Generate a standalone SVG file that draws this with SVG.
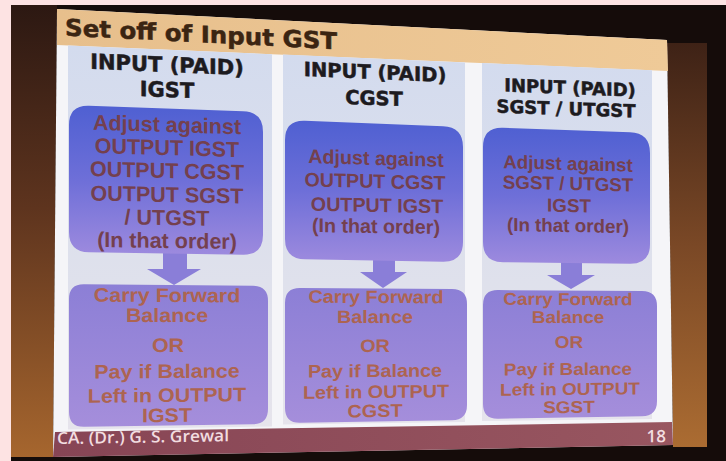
<svg xmlns="http://www.w3.org/2000/svg" width="726" height="461" viewBox="0 0 726 461">
<defs>
<linearGradient id="gLeft" x1="0" y1="0" x2="0" y2="1"><stop offset="0" stop-color="#2c1812"/><stop offset="0.45" stop-color="#5e341e"/><stop offset="1" stop-color="#a6662e"/></linearGradient>
<linearGradient id="gRight" x1="0" y1="0" x2="0" y2="1"><stop offset="0" stop-color="#3e2216"/><stop offset="0.5" stop-color="#7a4826"/><stop offset="1" stop-color="#ab6c32"/></linearGradient>
<linearGradient id="gTitle" x1="0" y1="0" x2="1" y2="0"><stop offset="0" stop-color="#e7bf8c"/><stop offset="1" stop-color="#efca98"/></linearGradient>
<linearGradient id="gPanel" x1="0" y1="0" x2="0" y2="1"><stop offset="0" stop-color="#d3dbee"/><stop offset="0.5" stop-color="#dde0ec"/><stop offset="1" stop-color="#e6e4ec"/></linearGradient>
<linearGradient id="gBox1" x1="0" y1="0" x2="0" y2="1"><stop offset="0" stop-color="#4f60d2"/><stop offset="0.5" stop-color="#6e6fd8"/><stop offset="1" stop-color="#9d8ade"/></linearGradient>
<linearGradient id="gBox2" x1="0" y1="0" x2="0" y2="1"><stop offset="0" stop-color="#8c7fd6"/><stop offset="1" stop-color="#a58edb"/></linearGradient>
<linearGradient id="gFoot" x1="0" y1="0" x2="1" y2="0"><stop offset="0" stop-color="#874555"/><stop offset="1" stop-color="#985660"/></linearGradient>
<style>
.h{font-family:"DejaVu Sans",Verdana,sans-serif;font-weight:bold;fill:#1d1b1f;stroke:#1d1b1f;stroke-width:0.5px;text-anchor:middle}
.t1{font-family:"Liberation Sans",Arial,sans-serif;font-weight:bold;fill:#74404e;text-anchor:middle}
.t2{font-family:"Liberation Sans",Arial,sans-serif;font-weight:bold;fill:#ad6450;text-anchor:middle}
.c1{font-size:21.5px}.c2{font-size:19.7px}.c3{font-size:18.8px}
.b1{font-size:19.5px}.b2{font-size:18px}.b3{font-size:17.2px}
.panel{fill:url(#gPanel)}
.box1{fill:url(#gBox1)}
.box2{fill:url(#gBox2)}
.arrow{fill:#8a7ed8}
.foot{font-family:"Open Sans","Noto Sans",sans-serif;font-weight:600;fill:#f2dde0}
</style>
</defs>

<g id="photo-background">
<rect x="0" y="0" width="726" height="461" fill="#fde3e3"/>
<rect x="11" y="5" width="715" height="456" fill="#150c0a"/>
<polygon points="11,5 57,5 57,9 53,457 11,457" fill="url(#gLeft)"/>
<polygon points="667,43 707,43 707,447 673,447" fill="url(#gRight)"/>
<polygon points="57,9 667,40 673,445 53,457" fill="#f5f5f8"/>
<polygon points="57,9 667,40 668,71 57,45" fill="url(#gTitle)"/>
<polygon points="55,432 672,422 673,445 53,457" fill="url(#gFoot)"/>
</g>

<g id="title">
<text class="h" style="text-anchor:start;fill:#3b2512;stroke:#3b2512" font-size="23.3" transform="translate(65,35.5) skewY(2.9)" textLength="272" lengthAdjust="spacingAndGlyphs">Set off of Input GST</text>
</g>

<g id="panels">
<polygon class="panel" points="68,45.5 272,54.2 272,426.5 68,429.5"/>
<polygon class="panel" points="283,54.6 465,62.4 465,422 283,424.5"/>
<polygon class="panel" points="482,63 652,70.3 652,419 482,421"/>
</g>

<g id="col1-heading">
<text class="h" font-size="21" transform="translate(167,72) skewY(2.4)">INPUT (PAID)</text>
<text class="h" font-size="21" transform="translate(167,97) skewY(2.1)">IGST</text>
</g>
<g id="col2-heading">
<text class="h" font-size="19.5" transform="translate(375,79) skewY(2.4)">INPUT (PAID)</text>
<text class="h" font-size="19.5" transform="translate(374,105) skewY(2.1)">CGST</text>
</g>
<g id="col3-heading">
<text class="h" font-size="18" transform="translate(570,94) skewY(2.3)">INPUT (PAID)</text>
<text class="h" font-size="18" transform="translate(566,115) skewY(2.1)">SGST / UTGST</text>
</g>

<g id="connectors">
<path class="arrow" d="M163,252 L187,252 L187,269 L201,269 L174,285 L147,269 L163,269 Z"/>
<path class="arrow" d="M373,260 L395,260 L395,272 L407,272 L383,288 L360,272 L373,272 Z"/>
<path class="arrow" d="M561,262 L582,262 L582,275 L595,275 L571,289 L547,275 L561,275 Z"/>
</g>

<g id="col1-adjust">
<path class="box1" d="M89,105.7 L243,111.3 Q263,112 263,132 L263,235 Q263,255 243,254.7 L89,252.3 Q69,252 69,232 L69,125 Q69,105 89,105.7 Z"/>
<text class="t1 c1" transform="translate(167,132) skewY(1.8)">Adjust against</text>
<text class="t1 c1" transform="translate(167,155) skewY(1.6)">OUTPUT IGST</text>
<text class="t1 c1" transform="translate(167,178) skewY(1.4)">OUTPUT CGST</text>
<text class="t1 c1" transform="translate(167,202) skewY(1.2)">OUTPUT SGST</text>
<text class="t1 c1" transform="translate(167,225) skewY(1.0)">/ UTGST</text>
<text class="t1 c1" transform="translate(167,248) skewY(0.8)">(In that order)</text>
</g>
<g id="col1-carry">
<path class="box2" d="M84,284.2 L253,285.8 Q268,286 268,301 L268,409 Q268,424 253,424.2 L84,426.8 Q69,427 69,412 L69,299 Q69,284 84,284.2 Z"/>
<text class="t2 b1" transform="translate(167,302) skewY(0.3) scale(1.1,1)">Carry Forward</text>
<text class="t2 b1" transform="translate(167,322) skewY(0.1) scale(1.1,1)">Balance</text>
<text class="t2 b1" transform="translate(168,352) skewY(-0.2) scale(1.1,1)">OR</text>
<text class="t2 b1" transform="translate(167,378) skewY(-0.4) scale(1.1,1)">Pay if Balance</text>
<text class="t2 b1" transform="translate(167,402) skewY(-0.6) scale(1.1,1)">Left in OUTPUT</text>
<text class="t2 b1" transform="translate(167,422) skewY(-0.8) scale(1.1,1)">IGST</text>
</g>

<g id="col2-adjust">
<path class="box1" d="M305,120.8 L443,126.2 Q463,127 463,147 L463,242 Q463,262 443,261.7 L305,259.3 Q285,259 285,239 L285,140 Q285,120 305,120.8 Z"/>
<text class="t1 c2" transform="translate(376,165) skewY(1.6)">Adjust against</text>
<text class="t1 c2" transform="translate(375,188) skewY(1.4)">OUTPUT CGST</text>
<text class="t1 c2" transform="translate(377,212) skewY(1.1)">OUTPUT IGST</text>
<text class="t1 c2" transform="translate(376,233) skewY(0.9)">(In that order)</text>
</g>
<g id="col2-carry">
<path class="box2" d="M300,288.1 L452,288.9 Q467,289 467,304 L467,405 Q467,420 452,420.2 L300,422.8 Q285,423 285,408 L285,303 Q285,288 300,288.1 Z"/>
<text class="t2 b2" transform="translate(376,303) skewY(0.2) scale(1.1,1)">Carry Forward</text>
<text class="t2 b2" transform="translate(375,323) skewY(0.1) scale(1.1,1)">Balance</text>
<text class="t2 b2" transform="translate(375,352) skewY(-0.2) scale(1.1,1)">OR</text>
<text class="t2 b2" transform="translate(375,377) skewY(-0.4) scale(1.1,1)">Pay if Balance</text>
<text class="t2 b2" transform="translate(376,398) skewY(-0.6) scale(1.1,1)">Left in OUTPUT</text>
<text class="t2 b2" transform="translate(375,417) skewY(-0.8) scale(1.1,1)">CGST</text>
</g>

<g id="col3-adjust">
<path class="box1" d="M503,127.7 L630,132.3 Q650,133 650,153 L650,244 Q650,264 630,263.8 L503,262.2 Q483,262 483,242 L483,147 Q483,127 503,127.7 Z"/>
<text class="t1 c3" transform="translate(568,170) skewY(1.6)">Adjust against</text>
<text class="t1 c3" transform="translate(568,190) skewY(1.4)">SGST / UTGST</text>
<text class="t1 c3" transform="translate(569,212) skewY(1.2)">IGST</text>
<text class="t1 c3" transform="translate(568,232) skewY(1.0)">(In that order)</text>
</g>
<g id="col3-carry">
<path class="box2" d="M498,290.1 L642,290.9 Q657,291 657,306 L657,401 Q657,416 642,416.3 L498,418.7 Q483,419 483,404 L483,305 Q483,290 498,290.1 Z"/>
<text class="t2 b3" transform="translate(568,305) skewY(0.3) scale(1.1,1)">Carry Forward</text>
<text class="t2 b3" transform="translate(568,323) skewY(0.1) scale(1.1,1)">Balance</text>
<text class="t2 b3" transform="translate(569,348) skewY(-0.2) scale(1.1,1)">OR</text>
<text class="t2 b3" transform="translate(568,375) skewY(-0.4) scale(1.1,1)">Pay if Balance</text>
<text class="t2 b3" transform="translate(570,395) skewY(-0.6) scale(1.1,1)">Left in OUTPUT</text>
<text class="t2 b3" transform="translate(569,413) skewY(-0.8) scale(1.1,1)">SGST</text>
</g>

<g id="footer">
<text class="foot" font-size="16.5" transform="translate(57,444) skewY(-0.9)" textLength="172" lengthAdjust="spacingAndGlyphs">CA. (Dr.) G. S. Grewal</text>
<text class="foot" font-size="17" text-anchor="end" transform="translate(666,442) skewY(-0.9)">18</text>
</g>
</svg>
